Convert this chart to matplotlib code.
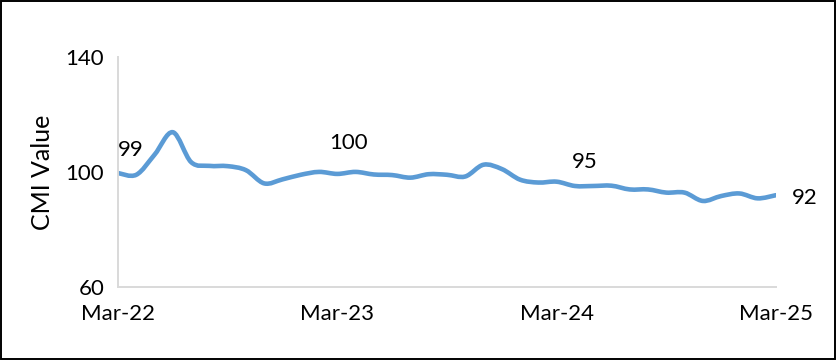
import numpy as np
import matplotlib
matplotlib.use("Agg")
import matplotlib.pyplot as plt
from matplotlib.path import Path
from matplotlib.patches import PathPatch

plt.rcParams['font.family'] = ['Lato', 'DejaVu Sans']

# monthly CMI values, Mar-22 .. Mar-25
cmi = [99.6, 99.0, 106.0, 113.8, 103.4, 102.1, 102.0, 100.6, 96.0, 97.4,
       99.0, 100.0, 99.3, 100.0, 99.1, 98.9, 98.0, 99.2, 99.0, 98.4,
       102.5, 101.0, 97.3, 96.3, 96.6, 95.1, 95.1, 95.2, 93.9, 93.9,
       92.8, 92.8, 89.9, 91.6, 92.5, 90.8, 91.9]
tick_pos = [0, 12, 24, 36]
tick_labels = ['Mar-22', 'Mar-23', 'Mar-24', 'Mar-25']
labelled = [1, 13, 26, 36]

x = np.arange(len(cmi), dtype=float)
y = np.array(cmi)

fig = plt.figure(figsize=(8.37, 3.6), dpi=100)
ax = fig.add_axes([0.141, 0.203, 0.786, 0.639])

# smoothed line like Excel (Catmull-Rom as bezier segments)
pts = np.column_stack([x, y])
verts = [pts[0]]
codes = [Path.MOVETO]
for i in range(len(pts) - 1):
    p0 = pts[i - 1] if i > 0 else pts[i]
    p1 = pts[i]
    p2 = pts[i + 1]
    p3 = pts[i + 2] if i + 2 < len(pts) else pts[i + 1]
    c1 = p1 + (p2 - p0) / 6
    c2 = p2 - (p3 - p1) / 6
    verts += [c1, c2, p2]
    codes += [Path.CURVE4] * 3
ax.add_patch(PathPatch(Path(verts, codes), facecolor='none', edgecolor='#5b9bd5',
                       lw=3.3, capstyle='round', joinstyle='round'))

ax.set_xlim(0, 36)
ax.set_ylim(60, 140)
ax.set_yticks([60, 100, 140])
ax.set_xticks(tick_pos)
ax.set_xticklabels(tick_labels)
ax.tick_params(length=0, labelsize=16, colors='black')
ax.tick_params(axis='x', pad=12)
ax.tick_params(axis='y', pad=10)
ax.set_ylabel('CMI Value', fontsize=18, labelpad=8)

for s in ['top', 'right']:
    ax.spines[s].set_visible(False)
for s in ['left', 'bottom']:
    ax.spines[s].set_color('#d9d9d9')
    ax.spines[s].set_linewidth(1.4)

offs = {1: (-4, 18), 13: (-5, 21), 26: (-6, 17), 36: (21, -2)}
for i in labelled:
    dx, dy = offs[i]
    ax.annotate(f'{round(cmi[i])}', (x[i], y[i]), xytext=(dx, dy),
                textcoords='offset points', ha='center', va='center', fontsize=16)

fig.patches.append(plt.Rectangle((0.001, 0.002), 0.997, 0.995, transform=fig.transFigure,
                                 fill=False, edgecolor='black', lw=1.4))

fig.savefig('out.png', dpi=100)
